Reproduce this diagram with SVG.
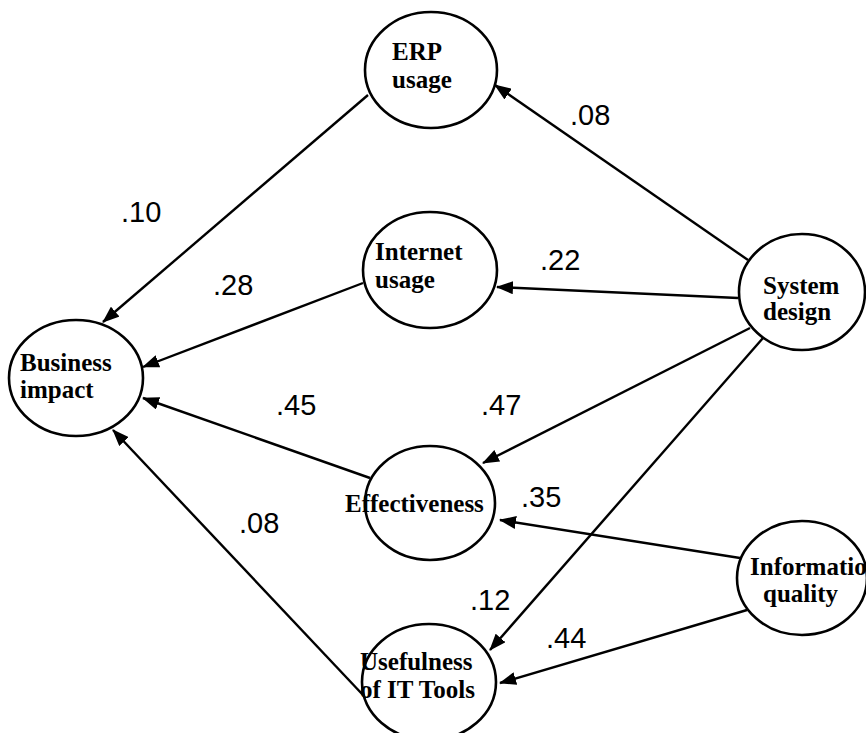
<svg xmlns="http://www.w3.org/2000/svg" width="866" height="733" viewBox="0 0 866 733">
<style>
.node ellipse{fill:#fff;stroke:#000;stroke-width:2.6}
.node text{font-family:"Liberation Serif","Times New Roman",serif;font-weight:bold;font-size:25px;fill:#000}
.edges line{stroke:#000;stroke-width:2.4;marker-end:url(#ah)}
.lbl text{font-family:"Liberation Sans",Arial,sans-serif;font-size:29px;fill:#000}
</style>
<defs>
<marker id="ah" markerWidth="17" markerHeight="13" refX="16" refY="6.5" orient="auto" markerUnits="userSpaceOnUse">
<path d="M0,0 L17,6.5 L0,13 Z" fill="#000"/>
</marker>
</defs>
<rect width="866" height="733" fill="#fff"/>
<g class="edges" id="connectors">
<line x1="368" y1="95" x2="103" y2="322"/>
<line x1="363" y1="283" x2="143" y2="367"/>
<line x1="370" y1="478" x2="143" y2="398"/>
<line x1="363" y1="695" x2="113" y2="430"/>
<line x1="748" y1="260" x2="495" y2="85"/>
<line x1="738" y1="298" x2="497" y2="287"/>
<line x1="750" y1="328" x2="483" y2="463"/>
<line x1="763" y1="338" x2="490" y2="650"/>
<line x1="740" y1="558" x2="500" y2="520"/>
<line x1="747" y1="610" x2="500" y2="683"/>
</g>
<g id="erp" class="node"><ellipse cx="431" cy="70" rx="66" ry="58"/><text x="392" y="60">ERP</text><text x="392" y="88">usage</text></g>
<g id="business" class="node"><ellipse cx="76" cy="378" rx="67" ry="58"/><text x="20" y="371">Business</text><text x="20" y="398">impact</text></g>
<g id="internet" class="node"><ellipse cx="430" cy="270" rx="67" ry="58"/><text x="375" y="260">Internet</text><text x="375" y="288">usage</text></g>
<g id="system" class="node"><ellipse cx="802" cy="292" rx="63" ry="58"/><text x="763" y="294">System</text><text x="763" y="320">design</text></g>
<g id="effectiveness" class="node"><ellipse cx="430" cy="503" rx="65" ry="57"/><text x="345" y="512">Effectiveness</text></g>
<g id="information" class="node"><ellipse cx="802" cy="578" rx="65" ry="57"/><text x="750" y="575">Information</text><text x="763" y="602">quality</text></g>
<g id="usefulness" class="node"><ellipse cx="429" cy="682" rx="67" ry="58"/><text x="360" y="670">Usefulness</text><text x="360" y="698">of IT Tools</text></g>
<g class="lbl" id="labels">
<text x="570" y="125">.08</text>
<text x="121" y="222">.10</text>
<text x="213" y="295">.28</text>
<text x="540" y="270">.22</text>
<text x="276" y="415">.45</text>
<text x="481" y="415">.47</text>
<text x="521" y="507">.35</text>
<text x="239" y="533">.08</text>
<text x="470" y="610">.12</text>
<text x="546" y="648">.44</text>
</g>
</svg>
